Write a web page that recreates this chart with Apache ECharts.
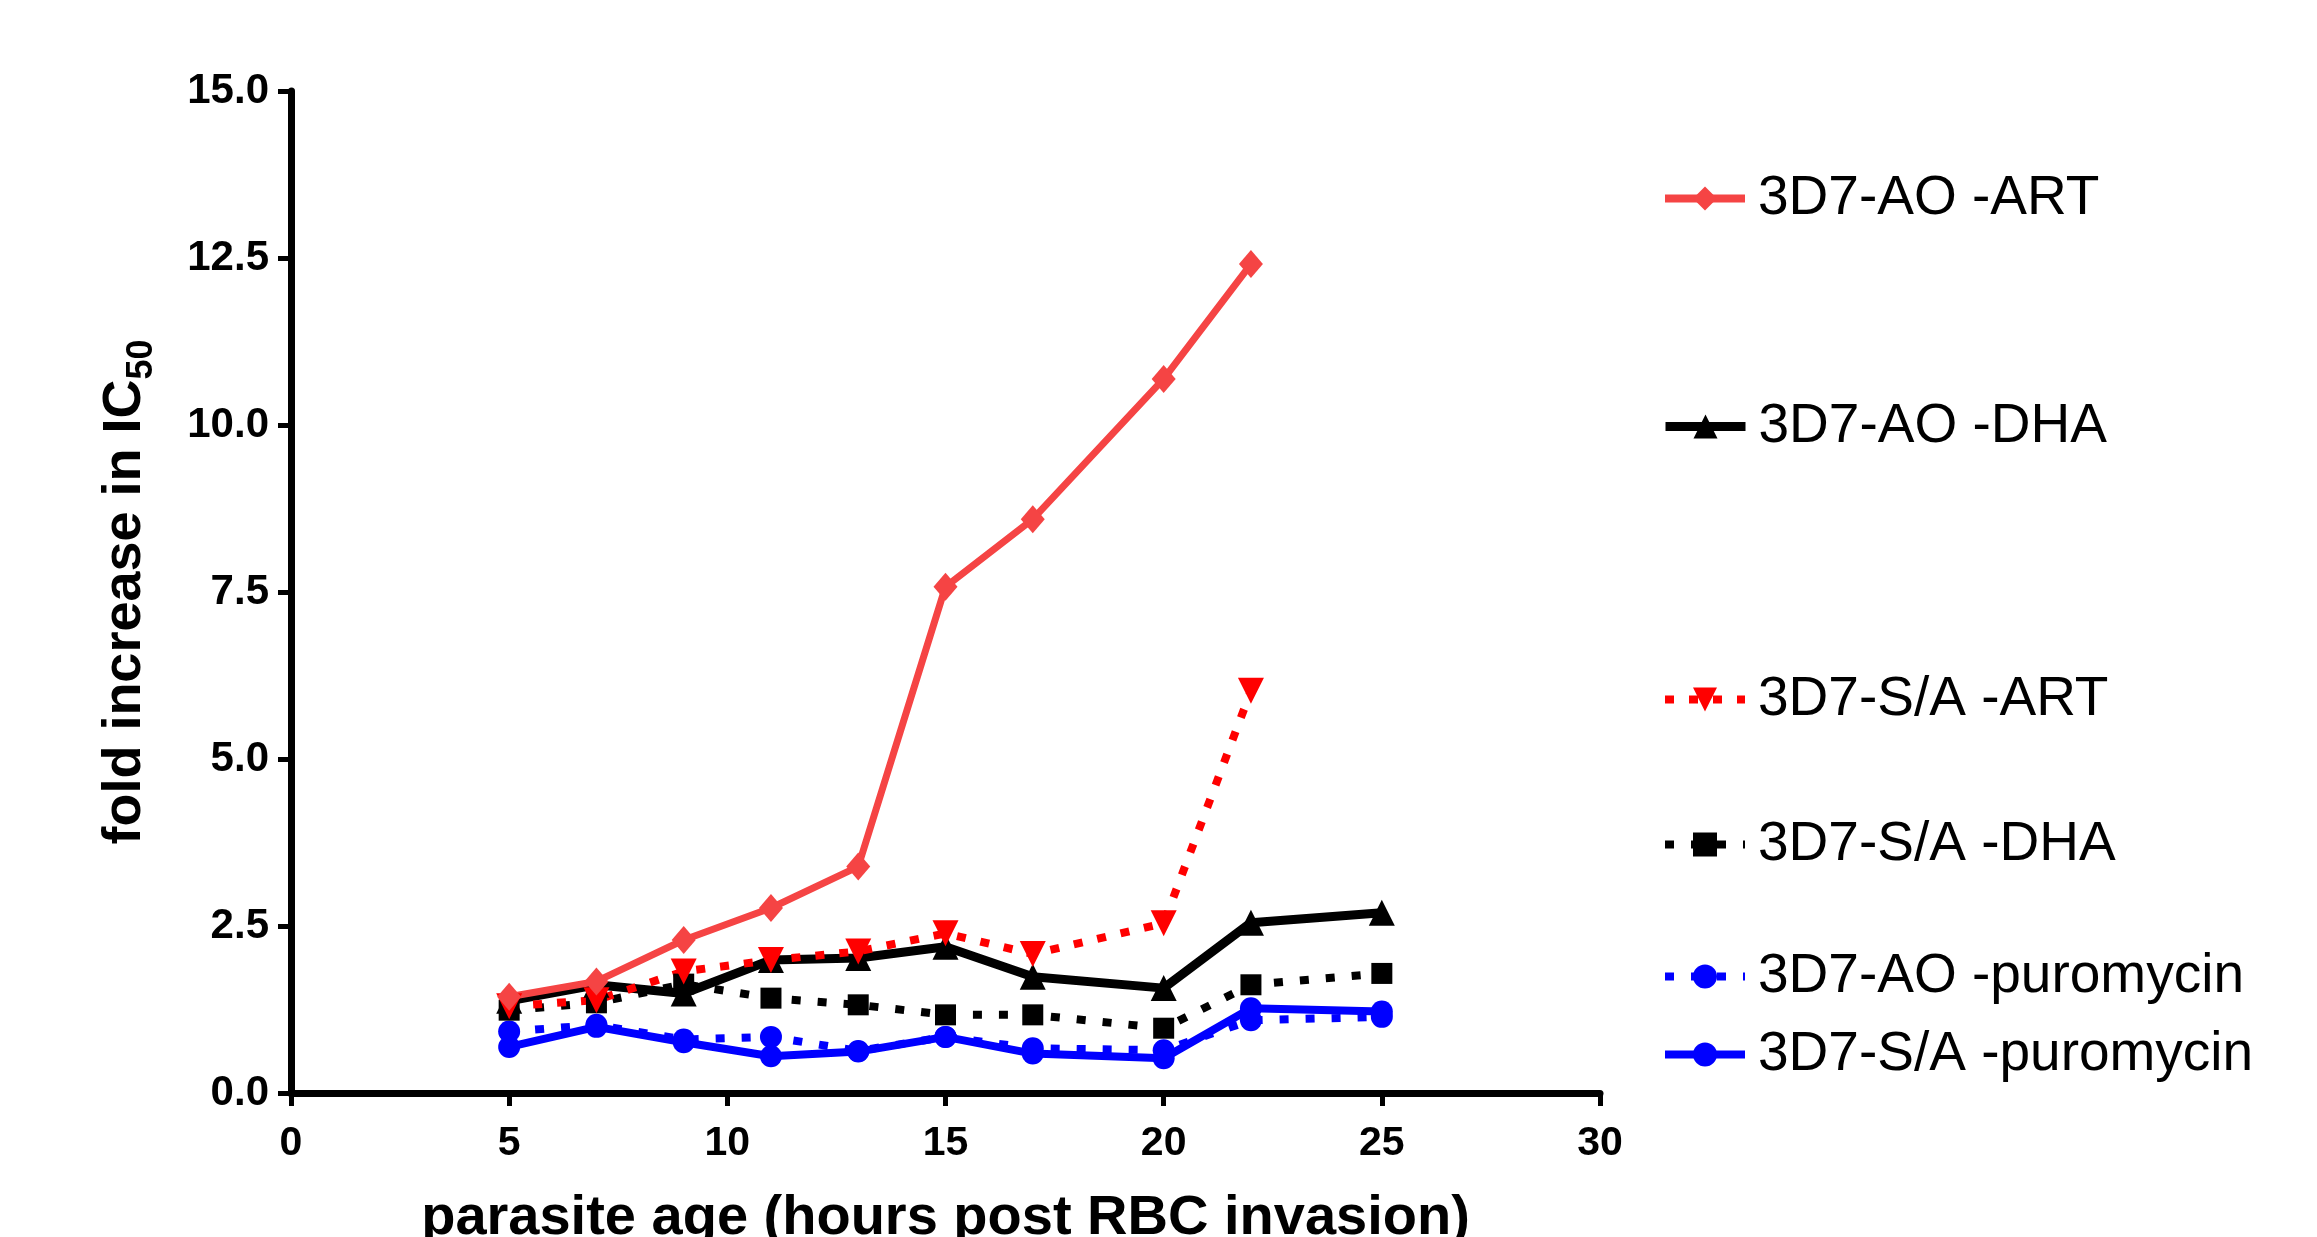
<!DOCTYPE html>
<html>
<head>
<meta charset="utf-8">
<title>fold increase in IC50</title>
<script src="https://cdn.jsdelivr.net/npm/echarts@6/dist/echarts.min.js"></script>
<style>
  html, body { margin: 0; padding: 0; background: #fff; }
  #main { width: 2317px; height: 1237px; }
</style>
</head>
<body>
<div id="main"></div>
<script>
  // parasite age (hours post RBC invasion)
  var hours = [5, 7, 9, 11, 13, 15, 17, 20, 22, 25];

  // fold increase in IC50, one array per line
  var aoArt = [1.44, 1.67, 2.29, 2.77, 3.39, 7.58, 8.59, 10.69, 12.41];
  var aoDha = [1.38, 1.62, 1.49, 1.99, 2.02, 2.19, 1.74, 1.57, 2.55, 2.70];
  var saArt = [1.30, 1.39, 1.82, 1.99, 2.12, 2.39, 2.08, 2.54, 6.02];
  var saDha = [1.24, 1.35, 1.63, 1.42, 1.32, 1.17, 1.17, 0.97, 1.62, 1.79];
  var aoPuro = [0.92, 1.02, 0.80, 0.84, 0.63, 0.84, 0.67, 0.64, 1.09, 1.14];
  var saPuro = [0.69, 0.99, 0.76, 0.55, 0.62, 0.84, 0.59, 0.52, 1.27, 1.22];

  var names = ['3D7-AO -ART', '3D7-AO -DHA', '3D7-S/A -ART', '3D7-S/A -DHA', '3D7-AO -puromycin', '3D7-S/A -puromycin'];

  var FONT = '"Liberation Sans", Arial, sans-serif';

  function pairs(vals) {
    return vals.map(function (v, i) { return [hours[i], v]; });
  }

  function legendAt(name, top, lineWidth) {
    return {
      data: [name],
      left: 1656,
      top: top,
      itemWidth: 80,
      itemHeight: 30,
      selectedMode: false,
      lineStyle: { width: lineWidth },
      textStyle: {
        fontFamily: FONT,
        fontSize: 55,
        color: '#000',
        padding: [0, 0, 0, 8]
      }
    };
  }

  var myChart = echarts.init(document.getElementById('main'));
  myChart.setOption({
    animation: false,
    backgroundColor: '#fff',
    grid: {
      left: 291,
      right: 717,
      top: 91,
      bottom: 144,
      outerBoundsMode: 'none',
      containLabel: false
    },
    legend: [
      legendAt(names[0], 166, 8),
      legendAt(names[1], 394, 9),
      legendAt(names[2], 667, 8),
      legendAt(names[3], 812, 8),
      legendAt(names[4], 944, 8),
      legendAt(names[5], 1022, 8)
    ],
    xAxis: {
      type: 'value',
      min: 0,
      max: 30,
      interval: 5,
      name: 'parasite age (hours post RBC invasion)',
      nameLocation: 'middle',
      nameGap: 98,
      nameTextStyle: {
        fontFamily: FONT,
        fontSize: 56,
        fontWeight: 'bold',
        color: '#000'
      },
      axisLine: { lineStyle: { color: '#000', width: 7 } },
      axisTick: { length: 13, lineStyle: { color: '#000', width: 5 } },
      axisLabel: {
        margin: 30,
        fontFamily: FONT,
        fontSize: 41,
        fontWeight: 'bold',
        color: '#000'
      },
      splitLine: { show: false }
    },
    yAxis: {
      type: 'value',
      min: 0,
      max: 15,
      interval: 2.5,
      name: '{t|fold increase in IC}{s|50}',
      nameLocation: 'middle',
      nameGap: 131,
      nameTextStyle: {
        color: '#000',
        rich: {
          t: { fontFamily: FONT, fontSize: 54, fontWeight: 'bold', lineHeight: 70, verticalAlign: 'middle' },
          s: { fontFamily: FONT, fontSize: 36, fontWeight: 'bold', lineHeight: 40, verticalAlign: 'bottom' }
        }
      },
      axisLine: { show: true, lineStyle: { color: '#000', width: 7 } },
      axisTick: { show: true, length: 13, lineStyle: { color: '#000', width: 5 } },
      axisLabel: {
        margin: 22,
        fontFamily: FONT,
        fontSize: 42,
        fontWeight: 'bold',
        color: '#000',
        formatter: function (v) { return v.toFixed(1); }
      },
      splitLine: { show: false }
    },
    series: [
      {
        name: names[4],
        type: 'line',
        data: pairs(aoPuro),
        symbol: 'circle',
        symbolSize: 22,
        itemStyle: { color: '#0000ff' },
        lineStyle: { color: '#0000ff', width: 8, type: [9, 17], cap: 'butt' }
      },
      {
        name: names[5],
        type: 'line',
        data: pairs(saPuro),
        symbol: 'circle',
        symbolSize: 22,
        itemStyle: { color: '#0000ff' },
        lineStyle: { color: '#0000ff', width: 8 }
      },
      {
        name: names[3],
        type: 'line',
        data: pairs(saDha),
        symbol: 'rect',
        symbolSize: 21,
        itemStyle: { color: '#000' },
        lineStyle: { color: '#000', width: 8, type: [9, 17], cap: 'butt' }
      },
      {
        name: names[1],
        type: 'line',
        data: pairs(aoDha),
        symbol: 'triangle',
        symbolSize: 26,
        itemStyle: { color: '#000' },
        lineStyle: { color: '#000', width: 9 }
      },
      {
        name: names[2],
        type: 'line',
        data: pairs(saArt),
        symbol: 'triangle',
        symbolRotate: 180,
        symbolSize: 26,
        itemStyle: { color: '#ff0000' },
        lineStyle: { color: '#ff0000', width: 8, type: [9, 15], cap: 'butt' }
      },
      {
        name: names[0],
        type: 'line',
        data: pairs(aoArt),
        symbol: 'diamond',
        symbolSize: [24, 28],
        itemStyle: { color: '#f54444' },
        lineStyle: { color: '#f54444', width: 7 }
      }
    ]
  });
</script>
</body>
</html>
